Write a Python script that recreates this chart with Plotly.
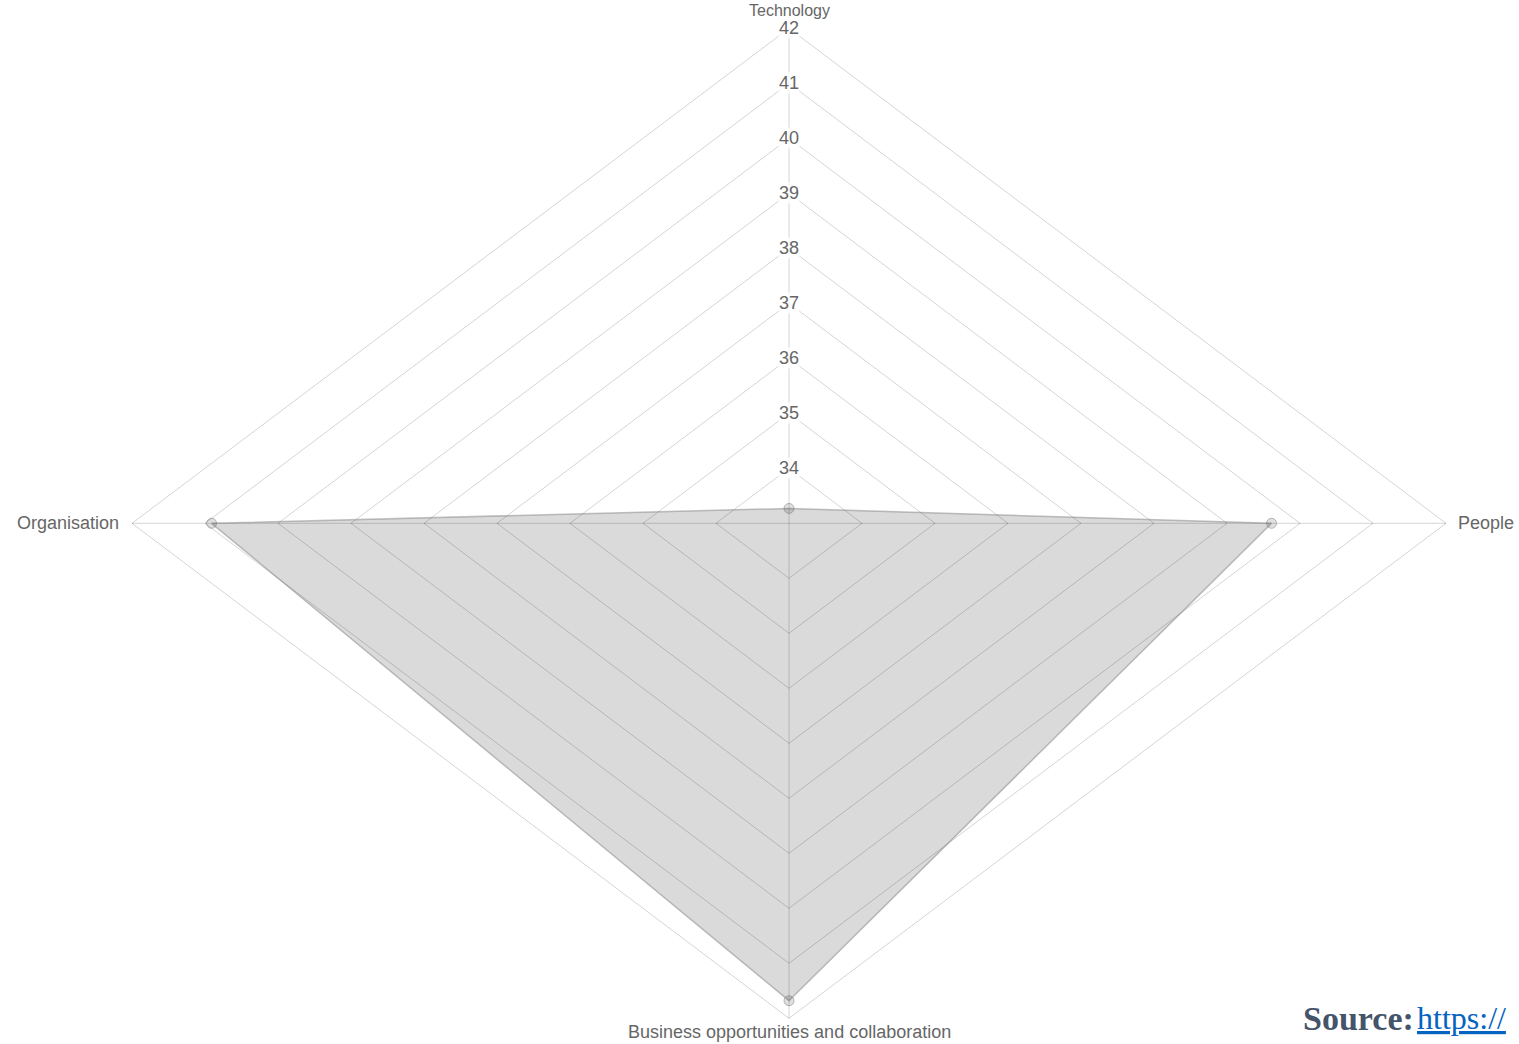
import numpy as np
import plotly.graph_objects as go

# ---- data ----
categories = ["Technology", "People", "Business opportunities and collaboration", "Organisation"]
values = [33.27, 39.61, 41.68, 40.91]
tick_values = [34, 35, 36, 37, 38, 39, 40, 41, 42]
tick_labels = ["34", "35", "36", "37", "38", "39", "40", "41", "42"]
r_min = 33
r_max = 42

# angles: clockwise from top
angles = np.deg2rad([90, 0, -90, 180])

def to_xy(vals):
    r = np.array(vals, dtype=float) - r_min
    return r * np.cos(angles), r * np.sin(angles)

GRID = "rgba(0,0,0,0.17)"
TXT = "#666666"
FONT = "Liberation Sans, Arial, Helvetica, sans-serif"

fig = go.Figure()

# grid rings
for t in tick_values:
    gx, gy = to_xy([t] * 4)
    fig.add_trace(go.Scatter(x=list(gx) + [gx[0]], y=list(gy) + [gy[0]], mode="lines",
                             line=dict(color=GRID, width=1), hoverinfo="skip", showlegend=False))
# spokes
ox, oy = to_xy([r_max] * 4)
for i in range(4):
    fig.add_trace(go.Scatter(x=[0, ox[i]], y=[0, oy[i]], mode="lines",
                             line=dict(color=GRID, width=1), hoverinfo="skip", showlegend=False))

# dataset
dx, dy = to_xy(values)
fig.add_trace(go.Scatter(x=list(dx) + [dx[0]], y=list(dy) + [dy[0]], mode="lines",
                         fill="toself", fillcolor="rgba(0,0,0,0.145)",
                         line=dict(color="rgba(120,120,120,0.45)", width=1.5),
                         hoverinfo="skip", showlegend=False))
fig.add_trace(go.Scatter(x=dx, y=dy, mode="markers",
                         marker=dict(size=10, color="rgba(0,0,0,0.12)",
                                     line=dict(color="rgba(120,120,120,0.5)", width=1)),
                         text=categories, hoverinfo="text", showlegend=False))

annotations = []
# tick labels
for t, lab in zip(tick_values, tick_labels):
    annotations.append(dict(x=0, y=t - r_min, xref="x", yref="y", text=lab, showarrow=False,
                            font=dict(family=FONT, size=18, color=TXT),
                            bgcolor="rgba(255,255,255,0.8)", borderpad=0,
                            xanchor="center", yanchor="middle"))

# category labels
lab_cfg = [
    dict(xanchor="center", yanchor="middle", xshift=0, yshift=18),
    dict(xanchor="left", yanchor="middle", xshift=10, yshift=0),
    dict(xanchor="center", yanchor="middle", xshift=0, yshift=-14),
    dict(xanchor="right", yanchor="middle", xshift=-11, yshift=0),
]
for i, cat in enumerate(categories):
    annotations.append(dict(x=ox[i], y=oy[i], xref="x", yref="y", text=cat, showarrow=False,
                            font=dict(family=FONT, size=18 if i else 16, color=TXT), **lab_cfg[i]))

W, H = 1519, 1044

# source note
annotations.append(dict(x=1301 / W, y=1 - 1018 / H, xref="paper", yref="paper",
                        text="<b>Source:</b>", showarrow=False, xanchor="left", yanchor="middle",
                        font=dict(family="Liberation Serif, Times New Roman, serif", size=34, color="#44546a")))
annotations.append(dict(x=1415 / W, y=1 - 1018 / H, xref="paper", yref="paper",
                        text="https://", showarrow=False, xanchor="left", yanchor="middle",
                        font=dict(family="Liberation Serif, Times New Roman, serif", size=32, color="#0563c1",
                                  lineposition="under")))

cx, cy = 789, 523.3
ux, uy = 73.0, 55.0
fig.update_layout(
    width=W, height=H,
    margin=dict(l=0, r=0, t=0, b=0),
    paper_bgcolor="white", plot_bgcolor="white",
    xaxis=dict(range=[-cx / ux, (W - cx) / ux], visible=False, fixedrange=True),
    yaxis=dict(range=[-(H - cy) / uy, cy / uy], visible=False, fixedrange=True),
    annotations=annotations,
    showlegend=False,
)

# remove the default 8px page margin so the figure fills the window exactly
fig.write_html("out.html", config={"displayModeBar": False},
               post_script="document.body.style.margin='0';document.body.style.overflow='hidden';")
